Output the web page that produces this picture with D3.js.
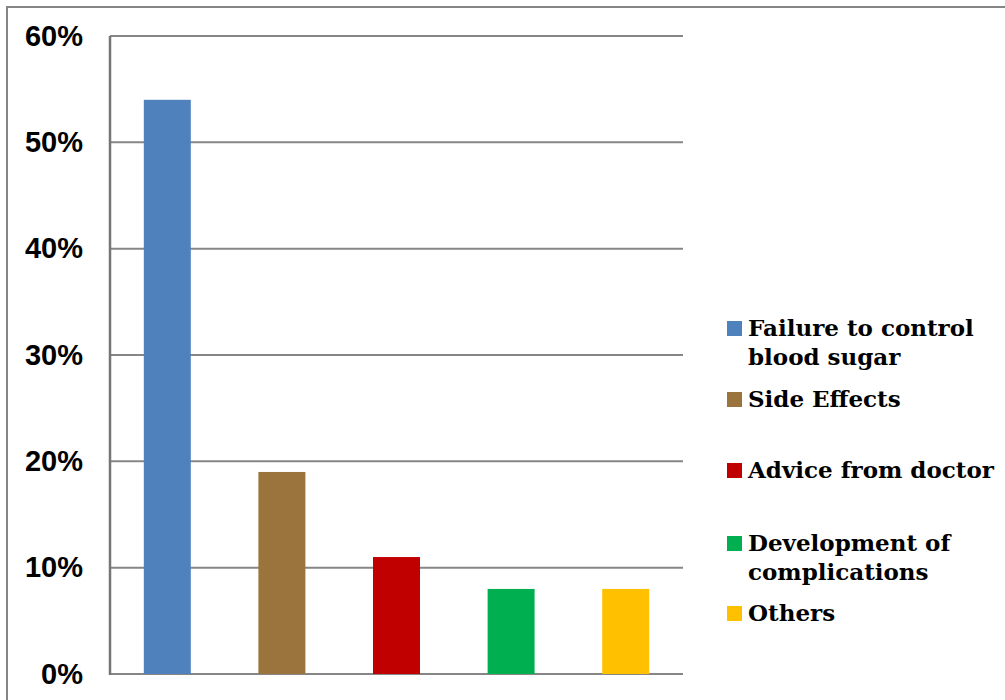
<!DOCTYPE html>
<html><head><meta charset="utf-8">
<script src="https://cdn.jsdelivr.net/npm/d3@7"></script>
<style>body{margin:0;background:#fff}svg{display:block}</style>
</head><body>
<script>
const categories = ["Failure to control blood sugar","Side Effects","Advice from doctor","Development of complications","Others"];
const values = [0.54, 0.19, 0.11, 0.08, 0.08];
const colors = ["#4f81bd","#9a743c","#c00000","#00b050","#ffc000"];
const legendLines = [["Failure to control","blood sugar"],["Side Effects"],["Advice from doctor"],["Development of","complications"],["Others"]];
const yTicks = [0,0.1,0.2,0.3,0.4,0.5,0.6];

const W=1005,H=700;
const svg=d3.select("body").append("svg").attr("width",W).attr("height",H);
svg.append("rect").attr("x",7).attr("y",7).attr("width",W).attr("height",H).attr("fill","#fff").attr("stroke","#868686").attr("stroke-width",2);

const x=d3.scaleBand().domain(categories).range([110,683]).padding(0);
const y=d3.scaleLinear().domain([0,0.6]).range([674,36]);

const grid=svg.append("g");
grid.selectAll("line").data(yTicks).join("line")
  .attr("x1",110).attr("x2",683).attr("y1",d=>y(d)).attr("y2",d=>y(d))
  .attr("stroke","#868686").attr("stroke-width",2);

const bw=x.bandwidth()*0.41;
svg.append("g").selectAll("rect").data(values).join("rect")
  .attr("x",(d,i)=>x(categories[i])+x.bandwidth()/2-bw/2)
  .attr("width",bw)
  .attr("y",d=>y(d)).attr("height",d=>y(0)-y(d))
  .attr("fill",(d,i)=>colors[i]);

svg.append("line").attr("x1",110).attr("x2",110).attr("y1",36).attr("y2",675)
  .attr("stroke","#767676").attr("stroke-width",2.5);

const yAxis=d3.axisLeft(y).tickValues(yTicks).tickFormat(d3.format(".0%")).tickSize(0).tickPadding(27);
const ga=svg.append("g").attr("transform","translate(110,0)").call(yAxis);
ga.select(".domain").remove();
ga.selectAll("text").attr("font-family","'Liberation Sans',Arial,sans-serif").attr("font-weight","bold").attr("font-size",29).attr("fill","#000");

const legendY=[336,407,478,551,621];
const lg=svg.append("g");
legendLines.forEach((lines,i)=>{
  lg.append("rect").attr("x",727).attr("y",legendY[i]-15).attr("width",15).attr("height",15).attr("fill",colors[i]);
  const t=lg.append("text").attr("x",748).attr("y",legendY[i]).attr("font-family","'Century Schoolbook','DejaVu Serif',serif").attr("font-weight","bold").attr("font-size",23).attr("fill","#000");
  lines.forEach((l,j)=>t.append("tspan").attr("x",748).attr("dy",j?29:0).text(l));
});
</script>
</body></html>
